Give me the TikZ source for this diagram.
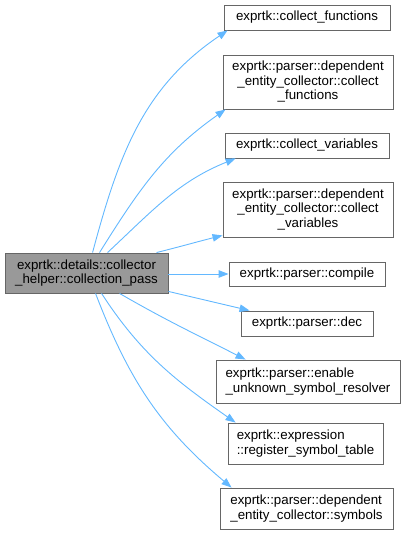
\documentclass[tikz,border=0pt]{standalone}
\usepackage{xcolor}
\usepackage{fontspec}
\setmainfont{Liberation Sans}
\usetikzlibrary{arrows.meta, positioning, calc}
\definecolor{callblue}{RGB}{99, 184, 255}
\definecolor{boxgrey}{RGB}{102, 102, 102}
\definecolor{mainfill}{RGB}{153, 153, 153}

\begin{document}
\begin{tikzpicture}[x=1pt, y=1pt,
    fn/.style={draw=boxgrey, fill=white, line width=0.9pt, inner sep=0pt,
               font=\fontsize{13.3}{14.5}\selectfont, align=center},
    caller/.style={fn, fill=mainfill},
    calls/.style={draw=callblue, line width=0.9pt, -{Triangle[length=10pt, width=7.5pt]}}]
    \useasboundingbox (0,0) rectangle (404,534);

    % the function whose call graph is shown
    \node[caller, minimum width=163pt, minimum height=40pt] (pass) at (86.5,261)
        {exprtk::details::collector\\\_helper::collection\_pass};

    % functions called
    \node[fn, minimum width=166pt, minimum height=25pt] (colfun) at (307,516.5)
        {exprtk::collect\_functions};
    \node[fn, minimum width=170pt, minimum height=54pt] (deccolfun) at (308,452)
        {exprtk::parser::dependent\\\_entity\_collector::collect\\\_functions};
    \node[fn, minimum width=164pt, minimum height=25pt] (colvar) at (307,388.5)
        {exprtk::collect\_variables};
    \node[fn, minimum width=170pt, minimum height=55pt] (deccolvar) at (308,324.5)
        {exprtk::parser::dependent\\\_entity\_collector::collect\\\_variables};
    \node[fn, minimum width=156pt, minimum height=24pt] (compile) at (307,260)
        {exprtk::parser::compile};
    \node[fn, minimum width=132pt, minimum height=25pt] (dec) at (307,210.5)
        {exprtk::parser::dec};
    \node[fn, align=left, minimum width=184pt, minimum height=43pt] (enable) at (308,152.5)
        {exprtk::parser::enable\\\_unknown\_symbol\_resolver};
    \node[fn, align=left, minimum width=155pt, minimum height=41pt] (regsym) at (305.5,90.5)
        {exprtk::expression\\::register\_symbol\_table};
    \node[fn, align=left, minimum width=173pt, minimum height=41pt] (symbols) at (306.5,25.5)
        {exprtk::parser::dependent\\\_entity\_collector::symbols};

    % calls
    \draw[calls] ([xshift=88pt]pass.north west) to[out=75, in=-146] ([xshift=4pt]colfun.south west);
    \draw[calls] ([xshift=95pt]pass.north west) to[out=58, in=-145] ([xshift=3pt]deccolfun.south west);
    \draw[calls] ([xshift=103pt]pass.north west) to[out=43, in=-158] ([xshift=11pt]colvar.south west);
    \draw[calls] ([xshift=152pt]pass.north west) to[out=14, in=-166] ([yshift=2pt]deccolvar.south west);
    \draw[calls] (pass.east |- compile.west) -- (compile.west);
    \draw[calls] ([yshift=2pt]pass.south east) -- ([xshift=9pt]dec.north west);
    \draw[calls] ([xshift=115pt]pass.south west) to[out=-30, in=153] ([xshift=30pt]enable.north west);
    \draw[calls] ([xshift=97pt]pass.south west) to[out=-57, in=145] ([xshift=8pt]regsym.north west);
    \draw[calls] ([xshift=91pt]pass.south west) to[out=-69, in=140] ([xshift=12pt]symbols.north west);
\end{tikzpicture}
\end{document}
